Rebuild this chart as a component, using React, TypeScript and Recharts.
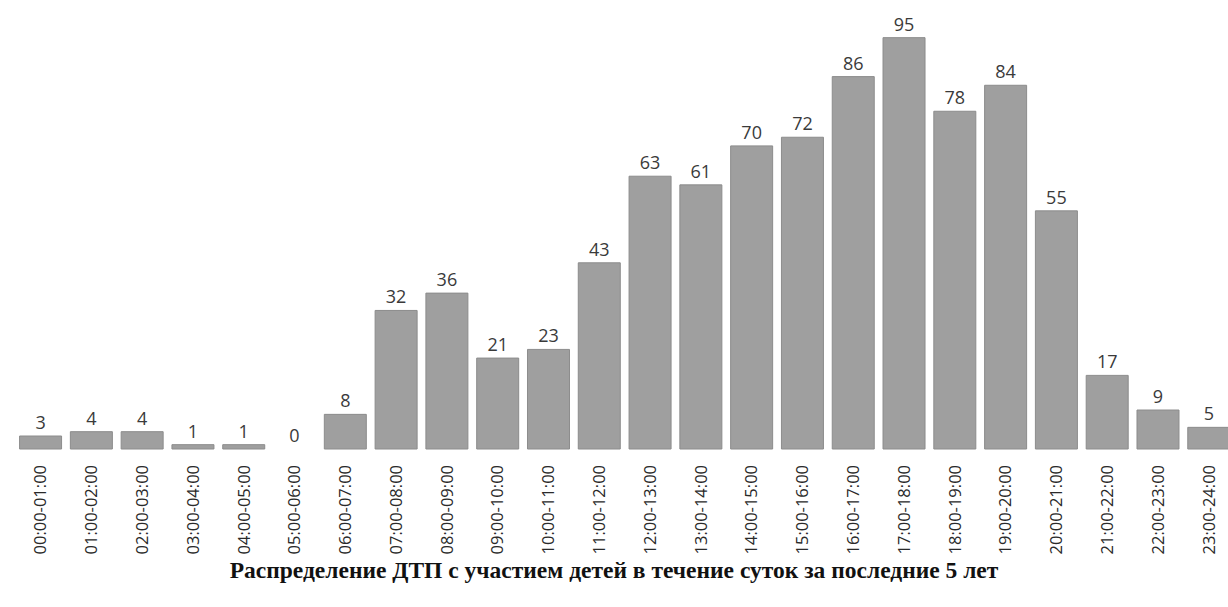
import { Bar, BarChart, LabelList, ReferenceDot, XAxis, YAxis } from "recharts";

const hours = [
  "00:00-01:00", "01:00-02:00", "02:00-03:00", "03:00-04:00", "04:00-05:00", "05:00-06:00",
  "06:00-07:00", "07:00-08:00", "08:00-09:00", "09:00-10:00", "10:00-11:00", "11:00-12:00",
  "12:00-13:00", "13:00-14:00", "14:00-15:00", "15:00-16:00", "16:00-17:00", "17:00-18:00",
  "18:00-19:00", "19:00-20:00", "20:00-21:00", "21:00-22:00", "22:00-23:00", "23:00-24:00",
];
const accidents = [3, 4, 4, 1, 1, 0, 8, 32, 36, 21, 23, 43, 63, 61, 70, 72, 86, 95, 78, 84, 55, 17, 9, 5];

const title = "Распределение ДТП с участием детей в течение суток за последние 5 лет";

const data = hours.map((h, i) => ({ hour: h, value: accidents[i] }));

const labelFont = {
  fontFamily: "'Open Sans', sans-serif",
  fontSize: 18,
  fill: "#3a3a3a",
};

function HourTick({ x, y, payload }: any) {
  return (
    <text
      x={0}
      y={0}
      transform={`translate(${x},${y + 8}) rotate(-90)`}
      textAnchor="end"
      dy="0.36em"
      fontFamily="'Open Sans', sans-serif"
      fontSize={16.5}
      fill="#2a2a2a"
    >
      {payload.value}
    </text>
  );
}

function ValueLabel(props: any) {
  const { x, y, width, value } = props;
  return (
    <text x={Number(x) + Number(width) / 2} y={Number(y) - 7} textAnchor="middle" {...labelFont}>
      {value}
    </text>
  );
}

// recharts skips labels of zero-height bars, so zeros get a reference dot label
const zeroLabel = (value: number) => (props: any) => {
  const vb = props.viewBox || {};
  return (
    <text x={vb.x + (vb.width || 0) / 2} y={vb.y - 7} textAnchor="middle" {...labelFont}>
      {value}
    </text>
  );
};

export default function App() {
  return (
    <div
      style={{
        position: "absolute",
        left: 0,
        top: 0,
        width: 1228,
        height: 607,
        overflow: "hidden",
        background: "#fff",
      }}
    >
      <BarChart
        width={1240}
        height={607}
        data={data}
        margin={{ top: 16, right: 6, left: 15, bottom: 48 }}
        barCategoryGap="9%"
      >
        <XAxis
          dataKey="hour"
          interval={0}
          height={110}
          axisLine={false}
          tickLine={false}
          tick={<HourTick />}
        />
        <YAxis hide domain={[0, 100]} />
        <Bar dataKey="value" fill="#9f9f9f" stroke="#8c8c8c" strokeWidth={1} isAnimationActive={false}>
          <LabelList dataKey="value" content={<ValueLabel />} />
        </Bar>
        {data
          .filter((d) => d.value === 0)
          .map((d) => (
            <ReferenceDot
              key={d.hour}
              x={d.hour}
              y={d.value}
              r={0}
              fill="none"
              stroke="none"
              label={zeroLabel(d.value)}
            />
          ))}
      </BarChart>
      <div
        style={{
          position: "absolute",
          left: 0,
          width: 1228,
          top: 557,
          textAlign: "center",
          fontFamily: "'Liberation Serif', 'Times New Roman', serif",
          fontWeight: "bold",
          fontSize: 23.5,
          color: "#111",
        }}
      >
        {title}
      </div>
    </div>
  );
}
